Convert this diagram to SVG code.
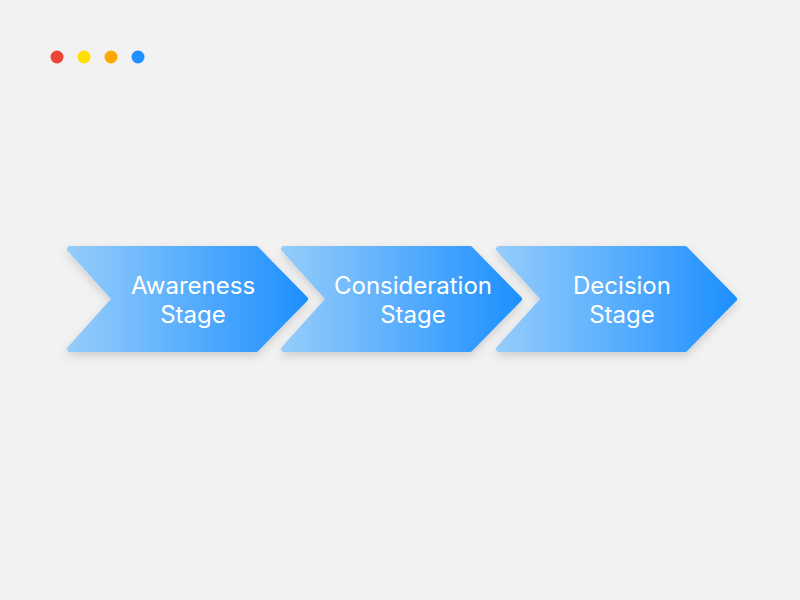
<svg xmlns="http://www.w3.org/2000/svg" width="800" height="600" viewBox="0 0 800 600">
  <defs>
    <linearGradient id="chev" x1="0" y1="0" x2="1" y2="0">
      <stop offset="0" stop-color="#94CCFB"/>
      <stop offset="1" stop-color="#1E90FF"/>
    </linearGradient>
    <filter id="shadow" x="-20%" y="-30%" width="140%" height="160%">
      <feDropShadow dx="0" dy="4" stdDeviation="5" flood-color="#000000" flood-opacity="0.15"/>
    </filter>
  </defs>
  <style>
    .chevron { fill: url(#chev); stroke: url(#chev); stroke-width: 6; stroke-linejoin: round; filter: url(#shadow); }
    .label { font-family: Inter, "Liberation Sans", sans-serif; font-size: 24px; fill: #ffffff; text-anchor: middle; }
  </style>
  <rect width="800" height="600" fill="#f2f2f2"/>
  <g id="window-dots">
    <circle cx="57" cy="57" r="6.5" fill="#EE4433"/>
    <circle cx="84" cy="57" r="6.5" fill="#FFE000"/>
    <circle cx="111" cy="57" r="6.5" fill="#FFA800"/>
    <circle cx="138" cy="57" r="6.5" fill="#1E90FF"/>
  </g>
  <g id="connectors"></g>
  <g id="awareness" transform="translate(67,246)">
    <polygon class="chevron" points="3,3 189,3 238,53 189,103 3,103 48,53"/>
    <text class="label" x="126" y="48">Awareness</text>
    <text class="label" x="126" y="77">Stage</text>
  </g>
  <g id="consideration" transform="translate(281,246)">
    <polygon class="chevron" points="3,3 189,3 238,53 189,103 3,103 48,53"/>
    <text class="label" x="132" y="48">Consideration</text>
    <text class="label" x="132" y="77">Stage</text>
  </g>
  <g id="decision" transform="translate(496,246)">
    <polygon class="chevron" points="3,3 189,3 238,53 189,103 3,103 48,53"/>
    <text class="label" x="126" y="48">Decision</text>
    <text class="label" x="126" y="77">Stage</text>
  </g>
</svg>
